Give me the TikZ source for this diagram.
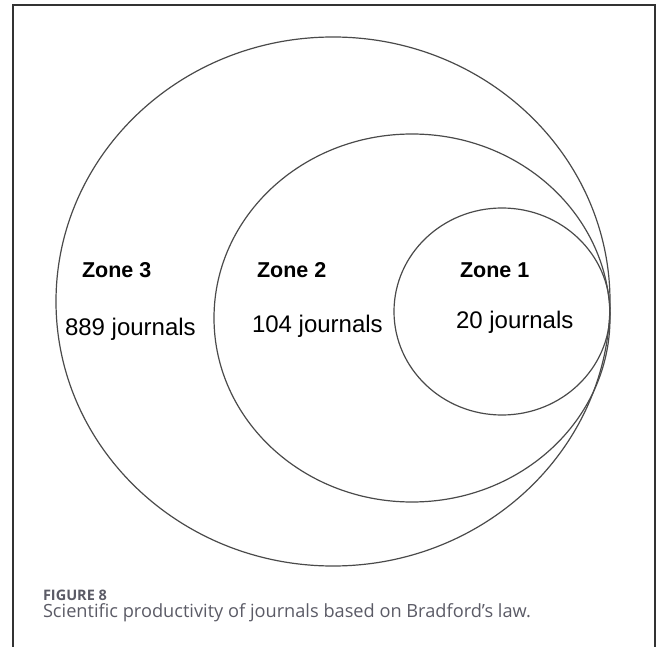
\documentclass[tikz,border=0pt]{standalone}
\usepackage{fontspec}
\setmainfont{Liberation Sans}
\newfontfamily\captionfont{Open Sans}
\usepackage{tikz}
\usetikzlibrary{shapes.geometric}
\definecolor{rimgray}{HTML}{4A4A4A}
\definecolor{framegray}{HTML}{333333}
\definecolor{capgray}{HTML}{5B5B66}

\begin{document}
\begin{tikzpicture}[x=1pt,y=1pt,inner sep=0pt,outer sep=0pt]
  \tikzstyle{zone}=[ellipse,draw=rimgray,line width=1.2pt]
  \tikzstyle{zonename}=[anchor=base west,font=\fontsize{21.5}{25}\selectfont\bfseries]
  \tikzstyle{count}=[anchor=base west,font=\fontsize{24}{28}\selectfont]
  \useasboundingbox (0,0) rectangle (658,646);

  \draw[framegray,line width=1.2pt] (13,-2) -- (13,641) -- (655,641) -- (655,-2);

  \node[zone,minimum width=554,minimum height=529] (Z3) at (333,344.5) {};
  \node[zone,minimum width=396,minimum height=368] (Z2) at (412,328) {};
  \node[zone,minimum width=216,minimum height=207] (Z1) at (502,334.5) {};

  \node[zonename] (T3) at (82,368)  {Zone 3};
  \node[count]    (N3) at (65,311)  {889 journals};
  \node[zonename] (T2) at (257,368) {Zone 2};
  \node[count]    (N2) at (252,314) {104 journals};
  \node[zonename] (T1) at (460,368) {Zone 1};
  \node[count]    (N1) at (456,318) {20 journals};

  \node[anchor=base west,text=capgray,font=\captionfont\fontsize{14.5}{16}\selectfont\bfseries]
       (fig) at (43,46) {FIGURE 8};
  \node[anchor=base west,text=capgray,font=\captionfont\fontsize{18.2}{21}\selectfont]
       (cap) at (43,29) {Scientific productivity of journals based on Bradford’s law.};
\end{tikzpicture}
\end{document}
